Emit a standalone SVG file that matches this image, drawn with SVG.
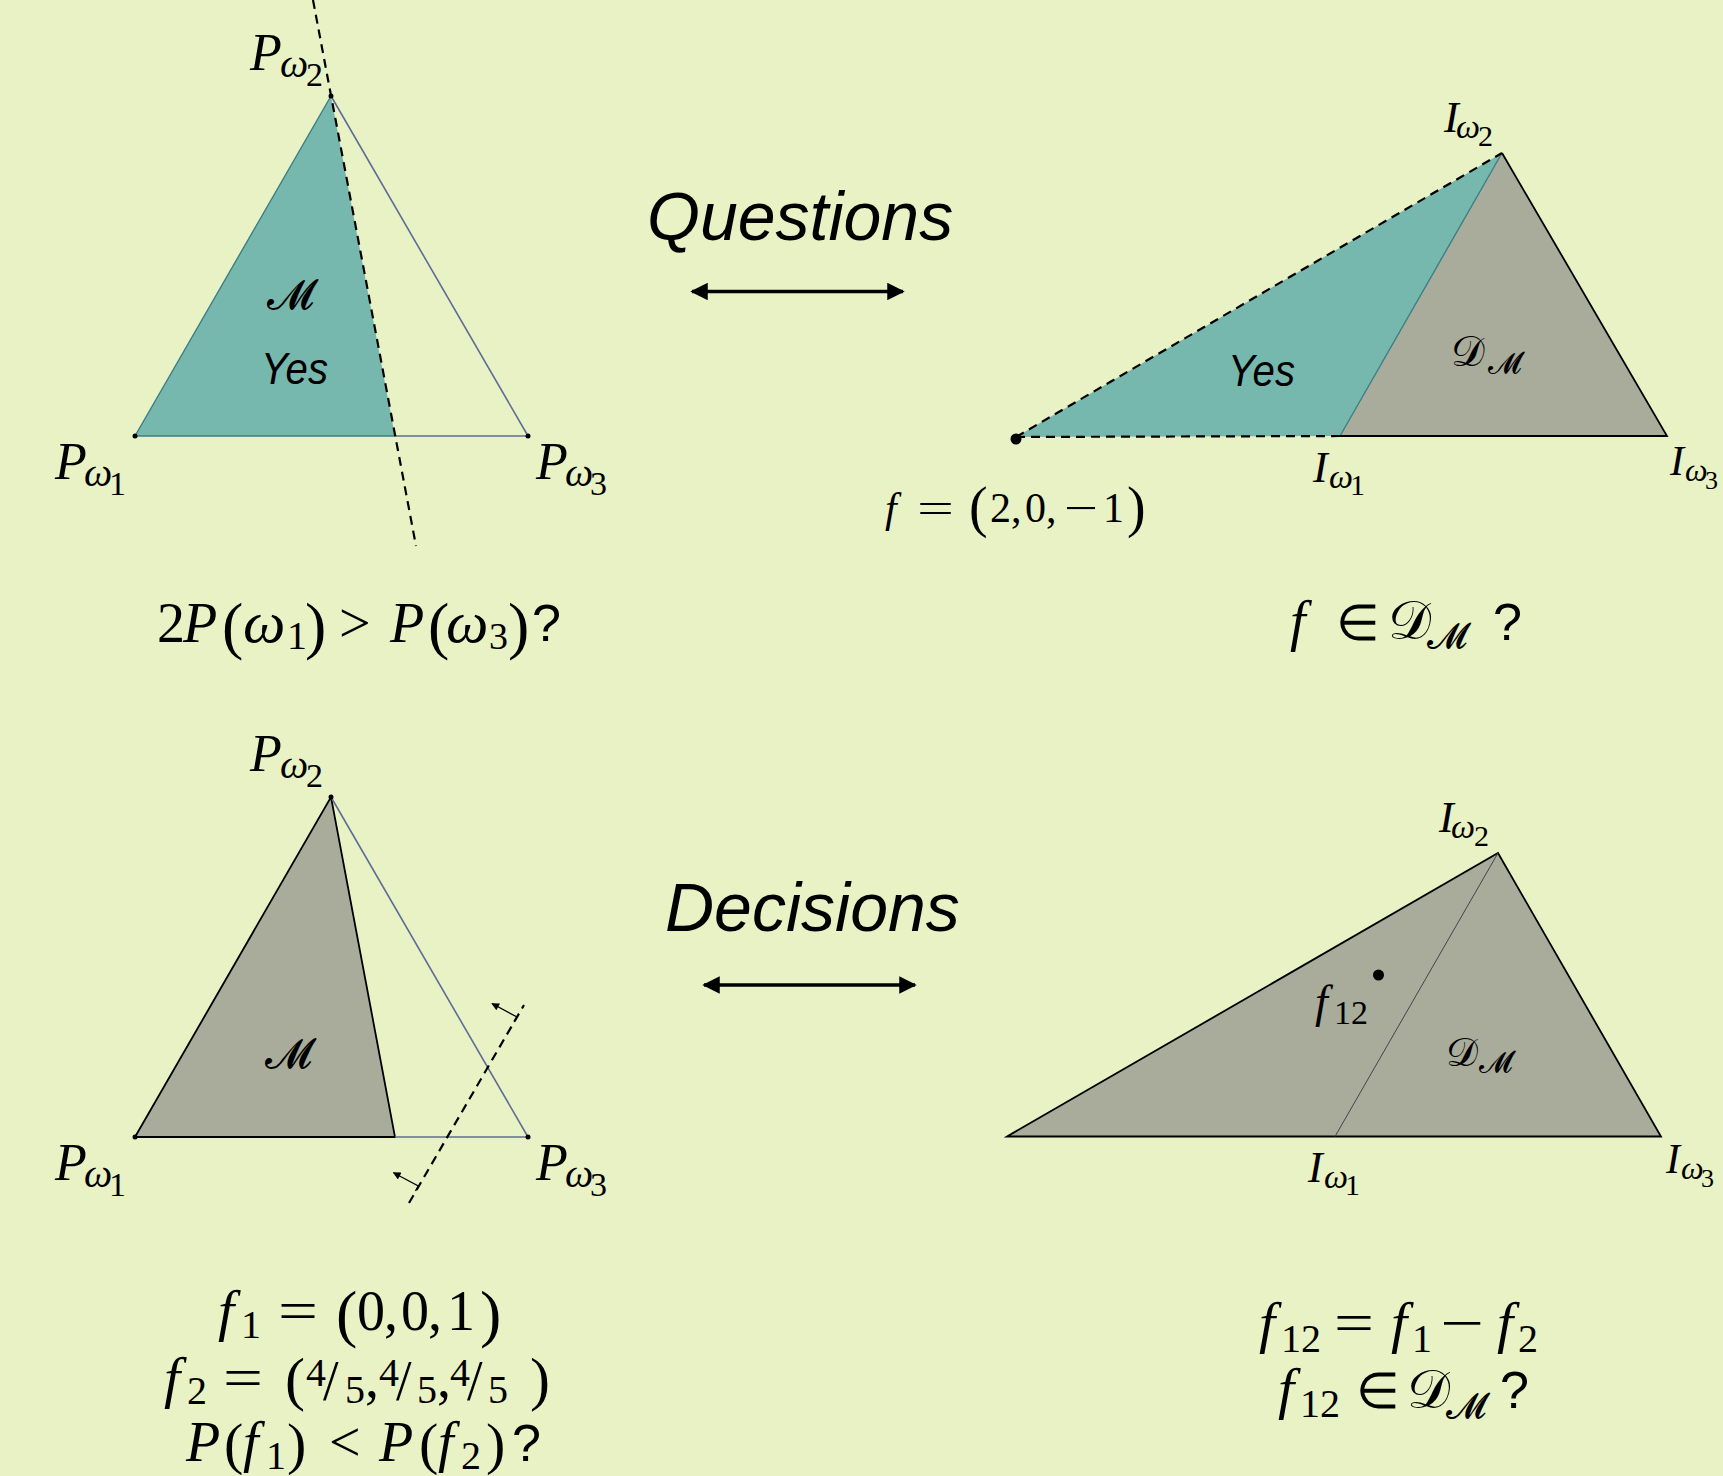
<svg xmlns="http://www.w3.org/2000/svg" width="1723" height="1476" viewBox="0 0 1723 1476">
<defs>
<style>
.teal{fill:#77b8ae}
.gray{fill:#a9ac9a}
.slate{stroke:#5f6c97;stroke-width:1.6;fill:none}
.blk{stroke:#000;stroke-width:1.8;fill:none}
.tealedge{stroke:#3c7e86;stroke-width:1.4;fill:none}
.dash{stroke:#000;stroke-width:2.2;fill:none;stroke-dasharray:9 6}
.m{font-family:"Liberation Serif",serif;font-style:italic;fill:#000}
.r{font-family:"Liberation Serif",serif;font-style:normal;fill:#000}
.s{font-family:"Liberation Sans",sans-serif;font-style:normal;fill:#000}
.si{font-family:"Liberation Sans",sans-serif;font-style:italic;fill:#000}
.scr{font-family:"DejaVu Serif","DejaVu Sans",serif;font-style:normal;fill:#000}
.arr{stroke:#000;stroke-width:3.5;fill:none}
.thin{stroke:#000;stroke-width:1.3;fill:none}
</style>
<marker id="ah" viewBox="0 0 10 10" refX="9" refY="5" markerWidth="5.5" markerHeight="5" orient="auto-start-reverse" markerUnits="strokeWidth">
<path d="M0,0 L10,5 L0,10 z" fill="#000"/>
</marker>
<marker id="sah" viewBox="0 0 10 10" refX="9" refY="5" markerWidth="7" markerHeight="6" orient="auto" markerUnits="strokeWidth">
<path d="M0,0 L10,5 L0,10 z" fill="#000"/>
</marker>
</defs>
<rect x="0" y="0" width="1723" height="1476" fill="#e9f2c5"/>

<g id="simplex-questions">
<polygon class="teal" points="135,436 331,96 395,436"/>
<polyline class="tealedge" points="395,436 135,436 331,96"/>
<line class="slate" x1="331" y1="96" x2="528" y2="436"/>
<line class="slate" x1="395" y1="436" x2="528" y2="436"/>
<line class="dash" x1="313" y1="0" x2="416" y2="546"/>
<circle cx="135" cy="436" r="2.5"/>
<circle cx="331" cy="96" r="2.5"/>
<circle cx="528" cy="436" r="2.5"/>
<text class="scr" x="290" y="309" font-size="42" text-anchor="middle">𝓜</text>
<text class="si" x="261" y="384" font-size="44" textLength="67" lengthAdjust="spacingAndGlyphs">Yes</text>
<text class="m"><tspan x="250" y="70" font-size="52">P</tspan><tspan x="280" y="77" font-size="40">ω</tspan><tspan class="r" x="306" y="86" font-size="34">2</tspan></text>
<text class="m"><tspan x="55" y="479" font-size="52">P</tspan><tspan x="84" y="486" font-size="40">ω</tspan><tspan class="r" x="109" y="495" font-size="34">1</tspan></text>
<text class="m"><tspan x="536" y="479" font-size="52">P</tspan><tspan x="565" y="486" font-size="40">ω</tspan><tspan class="r" x="590" y="495" font-size="34">3</tspan></text>
</g>

<g id="dual-questions">
<polygon class="teal" points="1016,437 1502,153 1340,436"/>
<polygon class="gray" points="1340,436 1502,153 1667,436"/>
<line class="tealedge" x1="1340" y1="436" x2="1502" y2="153"/>
<polyline class="blk" points="1502,153 1667,436 1340,436"/>
<line class="dash" x1="1016" y1="437" x2="1502" y2="153" stroke-dasharray="8 5" stroke-width="2"/>
<line class="dash" x1="1016" y1="437" x2="1340" y2="436" stroke-dasharray="8 5" stroke-width="2"/>
<circle cx="1016" cy="439" r="5.5"/>
<text class="si" x="1228" y="386" font-size="44" textLength="67" lengthAdjust="spacingAndGlyphs">Yes</text>
<text class="scr"><tspan x="1451" y="366" font-size="42">𝒟</tspan><tspan x="1488" y="373" font-size="30">𝓜</tspan></text>
<text class="m"><tspan x="1444" y="132" font-size="44">I</tspan><tspan x="1456" y="138" font-size="34">ω</tspan><tspan class="r" x="1478" y="146" font-size="30">2</tspan></text>
<text class="m"><tspan x="1313" y="482" font-size="44">I</tspan><tspan x="1329" y="488" font-size="34">ω</tspan><tspan class="r" x="1350" y="495" font-size="30">1</tspan></text>
<text class="m"><tspan x="1670" y="475" font-size="42">I</tspan><tspan x="1685" y="481" font-size="32">ω</tspan><tspan class="r" x="1705" y="489" font-size="26">3</tspan></text>
<text class="m" x="885" y="522" font-size="42">f</text>
<text class="r" x="917" y="522" font-size="42" textLength="37" lengthAdjust="spacingAndGlyphs">=</text>
<text class="r" x="1064" y="522" font-size="42" textLength="34" lengthAdjust="spacingAndGlyphs">−</text>
<text class="r" font-size="42"><tspan x="969" y="526" font-size="56">(</tspan><tspan x="990" y="522">2</tspan><tspan x="1011" y="522">,</tspan><tspan x="1025" y="522">0</tspan><tspan x="1046" y="522">,</tspan><tspan x="1103" y="522">1</tspan><tspan x="1127" y="526" font-size="56">)</tspan></text>
</g>

<g id="simplex-decisions">
<polygon class="gray" points="135,1137 331,797 395,1137"/>
<polygon class="blk" points="135,1137 331,797 395,1137"/>
<line class="slate" x1="331" y1="797" x2="528" y2="1137"/>
<line class="slate" x1="395" y1="1137" x2="528" y2="1137"/>
<circle cx="135" cy="1137" r="2.5"/>
<circle cx="331" cy="797" r="2.5"/>
<circle cx="528" cy="1137" r="2.5"/>
<line class="dash" x1="409" y1="1203" x2="524" y2="1005"/>
<polyline class="thin" points="514,1022 517,1017 492,1003.5" marker-end="url(#sah)"/>
<polyline class="thin" points="415.5,1191 418.3,1186 393.5,1172.7" marker-end="url(#sah)"/>
<text class="scr" x="288" y="1068" font-size="42" text-anchor="middle">𝓜</text>
<text class="m"><tspan x="250" y="771" font-size="52">P</tspan><tspan x="280" y="778" font-size="40">ω</tspan><tspan class="r" x="306" y="787" font-size="34">2</tspan></text>
<text class="m"><tspan x="55" y="1180" font-size="52">P</tspan><tspan x="84" y="1187" font-size="40">ω</tspan><tspan class="r" x="109" y="1196" font-size="34">1</tspan></text>
<text class="m"><tspan x="536" y="1180" font-size="52">P</tspan><tspan x="565" y="1187" font-size="40">ω</tspan><tspan class="r" x="590" y="1196" font-size="34">3</tspan></text>
</g>

<g id="dual-decisions">
<polygon class="gray" points="1007,1136.5 1498,853 1661,1136.5"/>
<polygon class="blk" points="1007,1136.5 1498,853 1661,1136.5"/>
<line x1="1498" y1="853" x2="1335" y2="1136.5" stroke="#444" stroke-width="1"/>
<circle cx="1378.5" cy="975" r="5.5"/>
<text class="m"><tspan x="1315" y="1017" font-size="46">f</tspan><tspan class="r" x="1334" y="1024" font-size="34">12</tspan></text>
<text class="scr"><tspan x="1446" y="1066" font-size="40">𝒟</tspan><tspan x="1479" y="1072" font-size="30">𝓜</tspan></text>
<text class="m"><tspan x="1439" y="832" font-size="44">I</tspan><tspan x="1451" y="838" font-size="34">ω</tspan><tspan class="r" x="1474" y="846" font-size="30">2</tspan></text>
<text class="m"><tspan x="1308" y="1182" font-size="44">I</tspan><tspan x="1324" y="1188" font-size="34">ω</tspan><tspan class="r" x="1345" y="1195" font-size="30">1</tspan></text>
<text class="m"><tspan x="1666" y="1173" font-size="42">I</tspan><tspan x="1681" y="1179" font-size="32">ω</tspan><tspan class="r" x="1701" y="1187" font-size="26">3</tspan></text>
</g>

<g id="question-simplex">
<text class="r" font-size="56"><tspan x="157" y="642">2</tspan><tspan class="m" x="183" y="642">P</tspan><tspan x="222" y="647" font-size="64">(</tspan><tspan class="m" x="243" y="642" font-size="60">ω</tspan><tspan x="287" y="649" font-size="40">1</tspan><tspan x="305" y="647" font-size="64">)</tspan><tspan x="339" y="642">&gt;</tspan><tspan class="m" x="390" y="642">P</tspan><tspan x="428" y="647" font-size="64">(</tspan><tspan class="m" x="446" y="642" font-size="60">ω</tspan><tspan x="489" y="649" font-size="38">3</tspan><tspan x="508" y="647" font-size="64">)</tspan><tspan class="s" x="532" y="641" font-size="52">?</tspan></text>
</g>

<g id="question-dual">
<text class="r" font-size="56"><tspan class="m" x="1290" y="640">f</tspan><tspan x="1336" y="640" font-size="50">∈</tspan><tspan class="scr" x="1388" y="639" font-size="54">𝒟</tspan><tspan class="scr" x="1427" y="648" font-size="36">𝓜</tspan><tspan class="s" x="1493" y="640" font-size="52">?</tspan></text>
</g>

<g id="decision-simplex">
<text class="m" x="218" y="1330" font-size="58">f</text>
<text class="r" x="278" y="1330" font-size="56" textLength="40" lengthAdjust="spacingAndGlyphs">=</text>
<text class="r" font-size="56"><tspan x="241" y="1338" font-size="40">1</tspan><tspan x="336" y="1335" font-size="64">(</tspan><tspan x="357" y="1330">0</tspan><tspan x="384" y="1330">,</tspan><tspan x="401" y="1330">0</tspan><tspan x="428" y="1330">,</tspan><tspan x="447" y="1330">1</tspan><tspan x="480" y="1335" font-size="64">)</tspan></text>

<text class="m" x="164" y="1397" font-size="58">f</text>
<text class="r" x="223" y="1397" font-size="56" textLength="40" lengthAdjust="spacingAndGlyphs">=</text>
<text class="r" font-size="56"><tspan x="187" y="1404" font-size="40">2</tspan><tspan x="285" y="1399" font-size="60">(</tspan><tspan x="306" y="1386" font-size="40">4</tspan><tspan x="323" y="1400">/</tspan><tspan x="345" y="1403" font-size="40">5</tspan><tspan x="365" y="1397">,</tspan><tspan x="379" y="1386" font-size="40">4</tspan><tspan x="396" y="1400">/</tspan><tspan x="417" y="1403" font-size="40">5</tspan><tspan x="437" y="1397">,</tspan><tspan x="450" y="1386" font-size="40">4</tspan><tspan x="467" y="1400">/</tspan><tspan x="488" y="1403" font-size="40">5</tspan><tspan x="530" y="1399" font-size="60">)</tspan></text>

<text class="r" font-size="56"><tspan class="m" x="186" y="1461">P</tspan><tspan x="224" y="1463" font-size="58">(</tspan><tspan class="m" x="243" y="1461" font-size="56">f</tspan><tspan x="266" y="1469" font-size="40">1</tspan><tspan x="287" y="1463" font-size="58">)</tspan><tspan x="329" y="1461">&lt;</tspan><tspan class="m" x="379" y="1461">P</tspan><tspan x="419" y="1463" font-size="58">(</tspan><tspan class="m" x="438" y="1461" font-size="56">f</tspan><tspan x="461" y="1469" font-size="40">2</tspan><tspan x="486" y="1463" font-size="58">)</tspan><tspan class="s" x="512" y="1461" font-size="52">?</tspan></text>
</g>

<g id="decision-dual">
<text class="r" x="1334" y="1342" font-size="56" textLength="40" lengthAdjust="spacingAndGlyphs">=</text>
<text class="r" x="1440" y="1342" font-size="56" textLength="44" lengthAdjust="spacingAndGlyphs">−</text>
<text class="r" font-size="56"><tspan class="m" x="1259" y="1342" font-size="58">f</tspan><tspan x="1281" y="1352" font-size="40">12</tspan><tspan class="m" x="1391" y="1342" font-size="58">f</tspan><tspan x="1412" y="1352" font-size="40">1</tspan><tspan class="m" x="1497" y="1342" font-size="58">f</tspan><tspan x="1518" y="1352" font-size="40">2</tspan></text>
<text class="r" font-size="56"><tspan class="m" x="1278" y="1408" font-size="58">f</tspan><tspan x="1300" y="1417" font-size="40">12</tspan><tspan x="1356" y="1408" font-size="50">∈</tspan><tspan class="scr" x="1407" y="1408" font-size="54">𝒟</tspan><tspan class="scr" x="1446" y="1418" font-size="36">𝓜</tspan><tspan class="s" x="1500" y="1408" font-size="52">?</tspan></text>
</g>

<g id="label-questions">
<text class="si" x="647" y="240" font-size="68">Questions</text>
</g>
<g id="label-decisions">
<text class="si" x="665" y="931" font-size="68">Decisions</text>
</g>

<g id="connectors">
<line class="arr" x1="692" y1="291.5" x2="903" y2="291.5" marker-start="url(#ah)" marker-end="url(#ah)"/>
<line class="arr" x1="704" y1="985" x2="915" y2="985" marker-start="url(#ah)" marker-end="url(#ah)"/>
</g>
</svg>
